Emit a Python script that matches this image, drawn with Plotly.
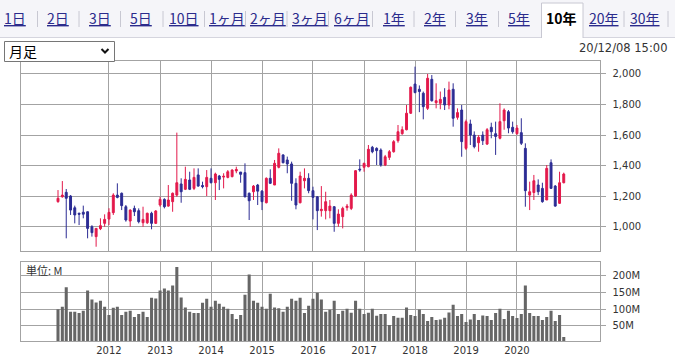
import plotly.graph_objects as go
import pandas as pd

W, H = 675, 355

# ---------------- data ----------------
months = pd.date_range("2011-01-01", periods=120, freq="MS")

opens = [1164, 1196, 1225, 1201, 1124, 1088, 1095, 1098, 1000, 935, 987, 1022,
         1050, 1092, 1207, 1219, 1131, 1037, 1120, 1105, 1026, 1026, 1088, 1022,
         1142, 1179, 1135, 1164, 1207, 1280, 1245, 1306, 1251, 1339, 1270, 1262,
         1317, 1288, 1332, 1325, 1323, 1328, 1365, 1358, 1354, 1219, 1229, 1273,
         1233, 1157, 1317, 1273, 1389, 1470, 1437, 1411, 1284, 1157, 1301, 1317,
         1236, 1196, 1105, 1105, 1105, 1131, 1022, 1066, 1125, 1120, 1201, 1377,
         1389, 1393, 1520, 1513, 1502, 1404, 1454, 1491, 1563, 1609, 1635, 1743,
         1934, 1900, 1874, 1775, 1965, 1812, 1808, 1847, 1797, 1900, 1716, 1764,
         1513, 1673, 1600, 1550, 1600, 1541, 1651, 1609, 1579, 1694, 1753, 1651,
         1609, 1616, 1513, 1207, 1224, 1273, 1251, 1175, 1419, 1266, 1153, 1288]
highs = [1240, 1299, 1247, 1207, 1138, 1092, 1138, 1100, 1010, 989, 1055, 1081,
         1121, 1219, 1284, 1224, 1142, 1114, 1138, 1120, 1131, 1092, 1098, 1109,
         1196, 1186, 1273, 1224, 1616, 1317, 1393, 1360, 1382, 1382, 1295, 1371,
         1382, 1354, 1339, 1350, 1371, 1376, 1393, 1358, 1415, 1224, 1273, 1280,
         1240, 1323, 1376, 1437, 1513, 1474, 1459, 1426, 1317, 1360, 1382, 1350,
         1262, 1201, 1266, 1229, 1175, 1135, 1114, 1131, 1149, 1219, 1371, 1441,
         1419, 1535, 1529, 1520, 1513, 1470, 1502, 1567, 1666, 1657, 1797, 1918,
         2048, 1925, 1885, 2000, 1993, 1939, 1885, 1907, 1950, 1939, 1775, 1797,
         1701, 1701, 1624, 1600, 1624, 1646, 1681, 1688, 1808, 1775, 1764, 1688,
         1666, 1710, 1546, 1295, 1339, 1310, 1288, 1404, 1441, 1273, 1360, 1354]
lows = [1157, 1190, 924, 1077, 1022, 1011, 1055, 924, 935, 869, 978, 1000,
        1011, 1077, 1186, 1109, 1033, 1000, 1070, 1022, 1000, 1018, 983, 1018,
        1131, 1120, 1131, 1098, 1196, 1157, 1240, 1240, 1240, 1262, 1251, 1201,
        1284, 1175, 1240, 1251, 1317, 1323, 1350, 1288, 1192, 1044, 1175, 1142,
        1109, 1153, 1280, 1273, 1382, 1415, 1350, 1170, 1114, 1153, 1251, 1219,
        1048, 978, 1066, 1048, 1055, 967, 1000, 989, 1105, 1109, 1196, 1360,
        1360, 1389, 1481, 1404, 1393, 1397, 1437, 1485, 1550, 1602, 1631, 1738,
        1874, 1750, 1703, 1764, 1819, 1775, 1769, 1764, 1769, 1655, 1701, 1458,
        1502, 1535, 1513, 1491, 1535, 1535, 1579, 1470, 1572, 1635, 1612, 1609,
        1602, 1535, 1131, 1109, 1175, 1207, 1157, 1175, 1251, 1131, 1149, 1284]
closes = [1186, 1207, 1186, 1109, 1077, 1082, 1082, 989, 961, 989, 1007, 1048,
          1094, 1207, 1192, 1138, 1044, 1109, 1098, 1033, 1048, 1088, 1022, 1103,
          1179, 1131, 1175, 1219, 1288, 1229, 1310, 1245, 1323, 1266, 1262, 1323,
          1288, 1345, 1310, 1330, 1360, 1371, 1375, 1343, 1196, 1170, 1266, 1233,
          1164, 1317, 1284, 1415, 1481, 1419, 1411, 1284, 1142, 1332, 1317, 1236,
          1192, 1105, 1114, 1164, 1135, 1022, 1083, 1120, 1135, 1207, 1367, 1372,
          1415, 1507, 1491, 1498, 1404, 1458, 1491, 1557, 1622, 1635, 1743, 1913,
          1878, 1885, 1786, 1972, 1825, 1825, 1834, 1797, 1895, 1710, 1747, 1557,
          1688, 1600, 1524, 1585, 1563, 1635, 1622, 1591, 1688, 1764, 1646, 1622,
          1646, 1546, 1236, 1229, 1301, 1229, 1164, 1382, 1251, 1135, 1288, 1345]
volumes_m = [100, 107, 166, 92, 92, 88, 95, 156, 129, 120, 125, 107,
             82, 104, 107, 82, 92, 95, 76, 85, 92, 76, 134, 132,
             156, 162, 156, 171, 227, 135, 105, 92, 88, 88, 119, 131,
             107, 125, 116, 107, 101, 85, 70, 82, 143, 204, 125, 119,
             107, 101, 146, 105, 103, 92, 107, 131, 125, 134, 88, 110,
             131, 149, 129, 92, 98, 125, 85, 95, 101, 89, 125, 101,
             85, 89, 101, 80, 85, 85, 52, 79, 74, 74, 105, 82,
             79, 99, 85, 64, 76, 67, 69, 74, 90, 113, 79, 85,
             61, 69, 85, 67, 81, 79, 67, 88, 101, 70, 95, 79,
             73, 85, 171, 88, 79, 79, 67, 76, 95, 64, 82, 16]

price_ticks = [1000, 1200, 1400, 1600, 1800, 2000]
volume_ticks = [50, 100, 150, 200]
volume_tick_labels = ["50M", "100M", "150M", "200M"]
year_ticks = ["2012-01-01", "2013-01-01", "2014-01-01", "2015-01-01", "2016-01-01",
              "2017-01-01", "2018-01-01", "2019-01-01", "2020-01-01"]
year_labels = ["2012", "2013", "2014", "2015", "2016", "2017", "2018", "2019", "2020"]

tabs = ["1日", "2日", "3日", "5日", "10日", "1ヶ月", "2ヶ月", "3ヶ月", "6ヶ月",
        "1年", "2年", "3年", "5年", "10年", "20年", "30年"]
selected_tab = "10年"
timestamp = "20/12/08 15:00"
period_label = "月足"
unit_label = "単位: M"

# ---------------- styles ----------------
RED = "#e3194b"
BLUE = "#2c2c94"
GRID = "#a3a3a3"
TXT = "#333333"
LINK = "#2b2b8c"


def px(x):
    return x / W


def py(y):
    return 1 - y / H


XDOM = [px(21), px(599.5)]
XRANGE = ["2010-04-11", "2021-08-14"]

fig = go.Figure()
fig.add_trace(go.Candlestick(
    x=months, open=opens, high=highs, low=lows, close=closes,
    increasing=dict(line=dict(color=RED, width=1), fillcolor=RED),
    decreasing=dict(line=dict(color=BLUE, width=1), fillcolor=BLUE),
    whiskerwidth=0, xaxis="x", yaxis="y", showlegend=False, hoverinfo="skip"))
fig.add_trace(go.Bar(
    x=months, y=volumes_m, marker=dict(color="#666666", line=dict(width=0)),
    xaxis="x2", yaxis="y2", showlegend=False, hoverinfo="skip"))

axis_common = dict(showline=True, mirror=True, linecolor=GRID, linewidth=1,
                   showgrid=True, gridcolor=GRID, gridwidth=1, zeroline=False)

fig.update_layout(
    width=W, height=H, margin=dict(l=0, r=0, t=0, b=0),
    paper_bgcolor="white", plot_bgcolor="white",
    bargap=0.22,
    xaxis=dict(domain=XDOM, anchor="y", type="date", range=XRANGE,
               tickmode="array", tickvals=year_ticks, showticklabels=False, ticks="",
               rangeslider=dict(visible=False), **axis_common),
    yaxis=dict(domain=[py(251), py(61)], anchor="x", range=[841, 2085], side="right",
               tickmode="array", tickvals=price_ticks, tickformat=",d",
               ticks="outside", ticklen=5, tickcolor=GRID, ticklabelstandoff=5,
               tickfont=dict(family="DejaVu Sans", size=10, color=TXT), **axis_common),
    xaxis2=dict(domain=XDOM, anchor="y2", type="date", range=XRANGE,
                tickmode="array", tickvals=year_ticks, ticktext=year_labels, ticks="",
                tickfont=dict(family="DejaVu Sans", size=10, color=TXT), **axis_common),
    yaxis2=dict(domain=[py(341), py(262)], anchor="x2", range=[4, 242], side="right",
                tickmode="array", tickvals=volume_ticks, ticktext=volume_tick_labels,
                ticks="outside", ticklen=5, tickcolor=GRID, ticklabelstandoff=5,
                tickfont=dict(family="DejaVu Sans", size=10, color=TXT), **axis_common),
)

shapes = []
annotations = []

# tab bar
shapes.append(dict(type="rect", xref="paper", yref="paper", x0=0, x1=1, y0=py(37.5), y1=py(0),
                   fillcolor="#f5f5f9", line=dict(width=0), layer="below"))
shapes.append(dict(type="line", xref="paper", yref="paper", x0=0, x1=1, y0=py(37.5), y1=py(37.5),
                   line=dict(color="#d5d5de", width=1)))
seps = [37.5, 79, 120.5, 163, 204.5, 245.5, 287, 328.5, 372.5, 414, 455.5, 498.5, 624, 668]
for s in seps:
    shapes.append(dict(type="line", xref="paper", yref="paper", x0=px(s), x1=px(s),
                       y0=py(11), y1=py(27), line=dict(color="#c8c8d2", width=1)))
sel_l, sel_r = 541.5, 583
shapes.append(dict(type="rect", xref="paper", yref="paper", x0=px(sel_l), x1=px(sel_r),
                   y0=py(38), y1=py(3), fillcolor="white", line=dict(width=0)))
for x0, y0, x1, y1 in [(sel_l, 3, sel_l, 38), (sel_r, 3, sel_r, 38), (sel_l, 3, sel_r, 3)]:
    shapes.append(dict(type="line", xref="paper", yref="paper", x0=px(x0), x1=px(x1),
                       y0=py(y0), y1=py(y1), line=dict(color="#c8c8d2", width=1)))

tab_centers = [15, 58, 100, 141, 184, 226.5, 268, 310, 351.5, 393.5, 435, 477, 519, 561, 604, 645]
for label, cx in zip(tabs, tab_centers):
    if label == selected_tab:
        font = dict(family="Noto Sans CJK JP", size=14, color="#000000", weight="bold")
    else:
        font = dict(family="Noto Sans CJK JP", size=14, color=LINK, lineposition="under")
    annotations.append(dict(text=label, xref="paper", yref="paper", x=px(cx), y=py(18),
                            xanchor="center", yanchor="middle", showarrow=False, font=font))

# period select box
shapes.append(dict(type="rect", xref="paper", yref="paper", x0=px(4.5), x1=px(114.5),
                   y0=py(61.5), y1=py(41.5), fillcolor="white", line=dict(color="#767676", width=1)))
chev = "M {:.5f},{:.5f} L {:.5f},{:.5f} L {:.5f},{:.5f}".format(
    px(101.5), py(49), px(105), py(52.5), px(108.5), py(49))
shapes.append(dict(type="path", xref="paper", yref="paper", path=chev,
                   line=dict(color="#111111", width=2)))
annotations.append(dict(text=period_label, xref="paper", yref="paper", x=px(7), y=py(51),
                        xanchor="left", yanchor="middle", showarrow=False,
                        font=dict(family="Noto Sans CJK JP", size=14, color="#000000")))

# timestamp
annotations.append(dict(text=timestamp, xref="paper", yref="paper", x=px(669), y=py(47.5),
                        xanchor="right", yanchor="middle", showarrow=False,
                        font=dict(family="DejaVu Sans", size=11.5, color=TXT)))

# unit label
annotations.append(dict(text=unit_label, xref="paper", yref="paper", x=px(24), y=py(270),
                        xanchor="left", yanchor="middle", showarrow=False,
                        font=dict(family="Noto Sans CJK JP", size=11, color=TXT)))

fig.update_layout(shapes=shapes, annotations=annotations)
fig.write_html("out.html")
